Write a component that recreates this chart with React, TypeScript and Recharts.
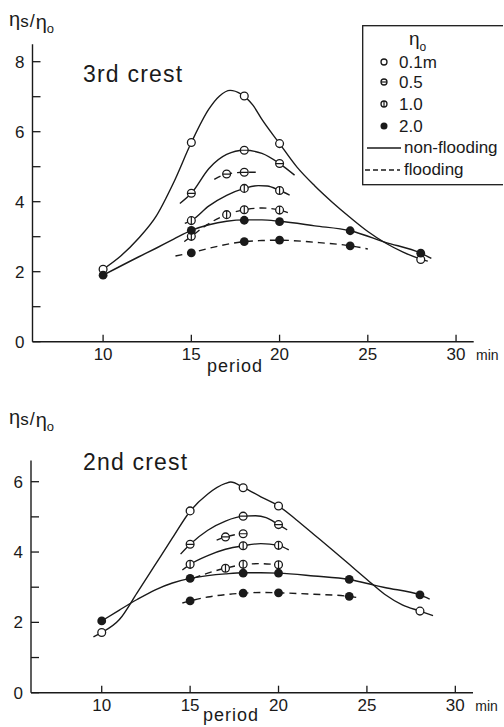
import React from 'react';
import { ComposedChart, Line, Scatter, XAxis, YAxis, Legend } from 'recharts';

type Pt = { x: number; y: number };
type Kind = 'open' | 'bar-h' | 'bar-v' | 'filled';

const pts = (rows: number[][]): Pt[] => rows.map(([x, y]) => ({ x, y }));

const FONT = '"Liberation Sans", Arial, sans-serif';
const INK = '#1a1a1a';

const PERIOD_TICKS = [10, 15, 20, 25, 30];
const RATIO_TICKS_3RD = [0, 1, 2, 3, 4, 5, 6, 7, 8];
const RATIO_TICKS_2ND = [0, 1, 2, 3, 4, 5, 6];

const LEGEND_LEVELS = ['0.1m', '0.5', '1.0', '2.0'];

// 3rd crest: measured points
const C3_H01 = pts([[10, 2.07], [15, 5.69], [18, 7.02], [20, 5.66], [28, 2.35]]);
const C3_H05 = pts([[15, 4.24], [18, 5.47], [20, 5.09]]);
const C3_H05_FL = pts([[17, 4.79], [18, 4.84]]);
const C3_H10 = pts([[15, 3.46], [18, 4.38], [20, 4.32]]);
const C3_H10_FL = pts([[15, 3.01], [17, 3.63], [18, 3.77], [20, 3.76]]);
const C3_H20 = pts([[10, 1.9], [15, 3.18], [18, 3.47], [20, 3.43], [24, 3.17], [28, 2.53]]);
const C3_H20_FL = pts([[15, 2.54], [18, 2.86], [20, 2.9], [24, 2.74]]);

// 3rd crest: fitted curves
const C3_H01_FIT = pts([[10, 2.07], [11, 2.45], [12, 2.95], [13, 3.58], [14, 4.55], [15, 5.69], [16, 6.65], [16.6, 7.02], [17.2, 7.18], [17.8, 7.08], [18.5, 6.75], [19, 6.35], [20, 5.66], [21, 4.98], [22, 4.45], [23, 3.98], [24, 3.55], [25, 3.15], [26, 2.82], [27, 2.56], [28, 2.36], [28.4, 2.3]]);
const C3_H05_FIT = pts([[14.35, 3.95], [15, 4.24], [16, 4.95], [17, 5.35], [18, 5.47], [19, 5.38], [20, 5.09], [20.85, 4.76]]);
const C3_H05_FL_FIT = pts([[16.3, 4.64], [17, 4.79], [18, 4.84], [18.65, 4.84]]);
const C3_H10_FIT = pts([[14.63, 3.38], [15, 3.46], [16, 3.88], [17, 4.18], [18, 4.38], [18.8, 4.46], [19.3, 4.45], [20, 4.32], [20.57, 4.19]]);
const C3_H10_FL_FIT = pts([[14.6, 2.86], [15, 3.01], [15.85, 3.33], [17, 3.63], [18, 3.77], [19, 3.82], [20, 3.76], [20.47, 3.69]]);
const C3_H20_FIT = pts([[10, 1.9], [12, 2.42], [13, 2.67], [14, 2.93], [15, 3.18], [16, 3.34], [17, 3.44], [18, 3.48], [19, 3.48], [20, 3.44], [22, 3.31], [24, 3.17], [26, 2.84], [28, 2.53], [28.6, 2.38]]);
const C3_H20_FL_FIT = pts([[14.1, 2.45], [15, 2.54], [16, 2.67], [17, 2.78], [18, 2.86], [19, 2.89], [20, 2.9], [22, 2.84], [24, 2.74], [25, 2.65]]);

// 2nd crest: measured points
const C2_H01 = pts([[10, 1.71], [15, 5.17], [18, 5.83], [20, 5.31], [28, 2.32]]);
const C2_H05 = pts([[15, 4.22], [18, 5.02], [20, 4.78]]);
const C2_H05_FL = pts([[17, 4.43], [18, 4.52]]);
const C2_H10 = pts([[15, 3.65], [18, 4.18], [20, 4.19]]);
const C2_H10_FL = pts([[17, 3.54], [18, 3.65], [20, 3.64]]);
const C2_H20 = pts([[10, 2.04], [15, 3.25], [18, 3.4], [20, 3.4], [24, 3.22], [28, 2.78]]);
const C2_H20_FL = pts([[15, 2.61], [18, 2.83], [20, 2.84], [24, 2.74]]);

// 2nd crest: fitted curves
const C2_H01_FIT = pts([[9.53, 1.59], [10, 1.71], [11, 2.08], [12, 2.84], [13, 3.62], [14, 4.4], [15, 5.16], [16, 5.65], [17, 5.95], [17.3, 5.99], [18, 5.84], [19, 5.57], [20, 5.31], [21, 4.92], [22, 4.5], [23, 4.08], [24, 3.65], [25, 3.22], [26, 2.8], [27, 2.5], [28, 2.32], [28.74, 2.19]]);
const C2_H05_FIT = pts([[14.46, 3.94], [15, 4.22], [16, 4.62], [17, 4.88], [18, 5.02], [18.7, 5.03], [19.3, 4.98], [20, 4.78], [20.49, 4.63]]);
const C2_H05_FL_FIT = pts([[16.5, 4.34], [17, 4.43], [18, 4.52], [18.45, 4.53]]);
const C2_H10_FIT = pts([[14.56, 3.49], [15, 3.65], [16, 3.9], [17, 4.08], [18, 4.18], [19, 4.24], [20, 4.19], [20.58, 4.06]]);
const C2_H10_FL_FIT = pts([[15.2, 3.26], [16, 3.4], [17, 3.54], [18, 3.64], [19, 3.67], [20, 3.64], [20.4, 3.63]]);
const C2_H20_FIT = pts([[10, 2.04], [11, 2.35], [12, 2.65], [13, 2.92], [14, 3.12], [15, 3.25], [16, 3.33], [17, 3.38], [18, 3.41], [19, 3.41], [20, 3.4], [22, 3.32], [24, 3.22], [25.4, 3.06], [26, 2.99], [28, 2.78], [28.55, 2.66]]);
const C2_H20_FL_FIT = pts([[14.56, 2.55], [15, 2.61], [16, 2.72], [17, 2.79], [18, 2.83], [19, 2.85], [20, 2.84], [22, 2.8], [24, 2.74], [24.6, 2.69]]);

type SeriesDef = { kind: Kind; marks: Pt[]; fit: Pt[]; dashed: boolean };

const CREST_3RD: SeriesDef[] = [
  { kind: 'open', marks: C3_H01, fit: C3_H01_FIT, dashed: false },
  { kind: 'bar-h', marks: C3_H05, fit: C3_H05_FIT, dashed: false },
  { kind: 'bar-h', marks: C3_H05_FL, fit: C3_H05_FL_FIT, dashed: true },
  { kind: 'bar-v', marks: C3_H10, fit: C3_H10_FIT, dashed: false },
  { kind: 'bar-v', marks: C3_H10_FL, fit: C3_H10_FL_FIT, dashed: true },
  { kind: 'filled', marks: C3_H20, fit: C3_H20_FIT, dashed: false },
  { kind: 'filled', marks: C3_H20_FL, fit: C3_H20_FL_FIT, dashed: true },
];

const CREST_2ND: SeriesDef[] = [
  { kind: 'open', marks: C2_H01, fit: C2_H01_FIT, dashed: false },
  { kind: 'bar-h', marks: C2_H05, fit: C2_H05_FIT, dashed: false },
  { kind: 'bar-h', marks: C2_H05_FL, fit: C2_H05_FL_FIT, dashed: true },
  { kind: 'bar-v', marks: C2_H10, fit: C2_H10_FIT, dashed: false },
  { kind: 'bar-v', marks: C2_H10_FL, fit: C2_H10_FL_FIT, dashed: true },
  { kind: 'filled', marks: C2_H20, fit: C2_H20_FIT, dashed: false },
  { kind: 'filled', marks: C2_H20_FL, fit: C2_H20_FL_FIT, dashed: true },
];

const LEGEND_KINDS: Kind[] = ['open', 'bar-h', 'bar-v', 'filled'];

const Marker = ({ kind, cx, cy, r = 3.9 }: { kind: Kind; cx: number; cy: number; r?: number }) => {
  if (kind === 'filled') return <circle cx={cx} cy={cy} r={r + 0.5} fill={INK} />;
  return (
    <g>
      <circle cx={cx} cy={cy} r={r} fill="#fff" stroke={INK} strokeWidth={1.3} />
      {kind === 'bar-h' && <line x1={cx - r} x2={cx + r} y1={cy} y2={cy} stroke={INK} strokeWidth={1.2} />}
      {kind === 'bar-v' && <line x1={cx} x2={cx} y1={cy - r} y2={cy + r} stroke={INK} strokeWidth={1.2} />}
    </g>
  );
};

const YTick = (props: any) => {
  const { x, y, payload } = props;
  const v = payload.value as number;
  return (
    <g>
      <line x1={x} x2={x + 8} y1={y} y2={y} stroke={INK} strokeWidth={1.3} />
      {v % 2 === 0 && (
        <text x={x - 8} y={y + 6} textAnchor="end" fontSize={17} fontFamily={FONT} fill={INK}>
          {v}
        </text>
      )}
    </g>
  );
};

const XTick = (props: any) => {
  const { x, y, payload } = props;
  const v = payload.value as number;
  return (
    <g>
      <line x1={x} x2={x} y1={y} y2={y - 7} stroke={INK} strokeWidth={1.3} />
      <text x={x} y={y + 18.5} textAnchor="middle" fontSize={17} fontFamily={FONT} fill={INK}>
        {v}
      </text>
      {v === 30 && (
        <text x={x + 20} y={y + 18.5} fontSize={14} fontFamily={FONT} fill={INK}>
          min
        </text>
      )}
    </g>
  );
};

const LegendBox = () => (
  <svg width={141} height={162} style={{ display: 'block' }}>
    <rect x={0.7} y={0.7} width={170} height={159} fill="#fff" stroke={INK} strokeWidth={1.3} />
    <text x={47} y={20} fontSize={19} fontFamily={FONT} fill={INK}>
      η<tspan fontSize={12} dy={6}>o</tspan>
    </text>
    {LEGEND_LEVELS.map((label, i) => {
      const cy = [37, 57, 79, 101][i];
      return (
        <g key={label}>
          <Marker kind={LEGEND_KINDS[i]} cx={22} cy={cy} r={3} />
          <text x={37} y={cy + 6} fontSize={17} fontFamily={FONT} fill={INK}>
            {label}
          </text>
        </g>
      );
    })}
    <line x1={5} x2={39} y1={123} y2={123} stroke={INK} strokeWidth={1.4} />
    <text x={42} y={128} fontSize={17} fontFamily={FONT} fill={INK}>non-flooding</text>
    <line x1={3} x2={38} y1={145} y2={145} stroke={INK} strokeWidth={1.4} strokeDasharray="5 3" />
    <text x={42} y={150} fontSize={17} fontFamily={FONT} fill={INK}>flooding</text>
  </svg>
);

type PanelProps = {
  height: number;
  margin: { top: number; right: number; bottom: number; left: number };
  yAxisWidth: number;
  yMax: number;
  yTicks: number[];
  series: SeriesDef[];
  legend?: boolean;
};

const CrestPanel = ({ height, margin, yAxisWidth, yMax, yTicks, series, legend }: PanelProps) => (
  <ComposedChart width={504} height={height} margin={margin}>
    <XAxis
      type="number"
      dataKey="x"
      domain={[6, 31]}
      ticks={PERIOD_TICKS}
      interval={0}
      allowDataOverflow
      height={30}
      tickSize={0}
      tickMargin={0}
      tick={<XTick />}
      axisLine={{ stroke: INK, strokeWidth: 1.4 }}
    />
    <YAxis
      type="number"
      dataKey="y"
      domain={[0, yMax]}
      ticks={yTicks}
      interval={0}
      allowDataOverflow
      width={yAxisWidth}
      tickSize={0}
      tickMargin={0}
      tick={<YTick />}
      axisLine={{ stroke: INK, strokeWidth: 1.4 }}
    />
    {series.map((s, i) => (
      <Line
        key={`fit-${i}`}
        data={s.fit}
        dataKey="y"
        type="monotone"
        stroke={INK}
        strokeWidth={1.4}
        strokeDasharray={s.dashed ? '7 5' : undefined}
        dot={false}
        activeDot={false}
        isAnimationActive={false}
      />
    ))}
    {series.map((s, i) => (
      <Scatter
        key={`pts-${i}`}
        data={s.marks}
        dataKey="y"
        shape={(p: any) => <Marker kind={s.kind} cx={p.cx} cy={p.cy} />}
        isAnimationActive={false}
      />
    ))}
    {legend && (
      <Legend
        layout="horizontal"
        verticalAlign="middle"
        align="center"
        content={() => <LegendBox />}
        wrapperStyle={{ left: 362, top: 25, width: 142, height: 162 }}
      />
    )}
  </ComposedChart>
);

const RatioLabel = ({ x, y }: { x: number; y: number }) => (
  <text x={x} y={y} fontSize={20} fontFamily={FONT} fill={INK}>
    η<tspan fontSize={17} dy={1}>s</tspan>
    <tspan fontSize={18} dx={1}>/</tspan>
    <tspan fontSize={20} dx={1} dy={2}>η</tspan>
    <tspan fontSize={13} dy={4}>o</tspan>
  </text>
);

export default function App() {
  return (
    <div style={{ position: 'absolute', left: 0, top: 0, width: 504, height: 727, overflow: 'hidden', background: '#fff' }}>
      <div style={{ position: 'absolute', left: 0, top: 0 }}>
        <CrestPanel
          height={380}
          margin={{ top: 44.2, right: 30.3, bottom: 8.3, left: 0.5 }}
          yAxisWidth={32}
          yMax={8.5}
          yTicks={RATIO_TICKS_3RD}
          series={CREST_3RD}
          legend
        />
      </div>
      <div style={{ position: 'absolute', left: 0, top: 400 }}>
        <CrestPanel
          height={327}
          margin={{ top: 60.6, right: 31, bottom: 4.3, left: 0 }}
          yAxisWidth={31}
          yMax={6.6}
          yTicks={RATIO_TICKS_2ND}
          series={CREST_2ND}
        />
      </div>
      <svg width={504} height={727} style={{ position: 'absolute', left: 0, top: 0, pointerEvents: 'none' }}>
        <RatioLabel x={9} y={26} />
        <text x={83} y={82} fontSize={23} letterSpacing={1.2} fontFamily={FONT} fill={INK}>3rd crest</text>
        <text x={235} y={372} textAnchor="middle" fontSize={18} letterSpacing={1} fontFamily={FONT} fill={INK}>period</text>
        <RatioLabel x={9} y={424} />
        <text x={83} y={470} fontSize={23} letterSpacing={1.2} fontFamily={FONT} fill={INK}>2nd crest</text>
        <text x={231} y={721} textAnchor="middle" fontSize={18} letterSpacing={1} fontFamily={FONT} fill={INK}>period</text>
      </svg>
    </div>
  );
}
